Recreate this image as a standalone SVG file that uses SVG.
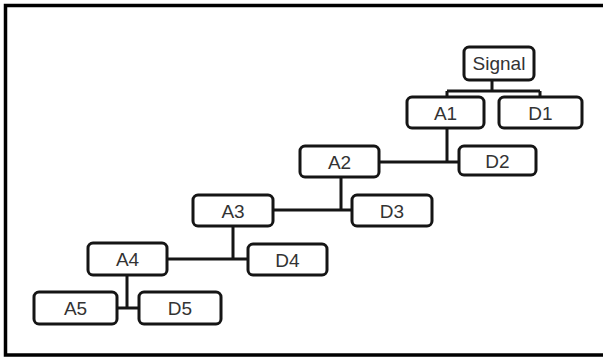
<svg xmlns="http://www.w3.org/2000/svg" width="603" height="358" viewBox="0 0 603 358">
<style>
.n rect{fill:#fff;stroke:#151515;stroke-width:3}
.n text{font-family:"Liberation Sans",Arial,sans-serif;font-size:19px;fill:#333;text-anchor:middle}
#connectors path{fill:none;stroke:#151515;stroke-width:3}
</style>
<rect x="0" y="0" width="603" height="358" fill="#fff"/>
<rect x="5.5" y="5.5" width="620" height="349.5" fill="none" stroke="#000" stroke-width="3.5"/>
<g id="connectors">
<path d="M492 81V91M447 91H540M447 91V97M540 91V97"/>
<path d="M447 129V162M379 162H459"/>
<path d="M341 177V210M273 210H352"/>
<path d="M233 227V259M167 259H248"/>
<path d="M127 275V308M117 308H139"/>
</g>
<g id="signal" class="n"><rect x="464" y="47" width="70" height="33" rx="5"/><text x="499" y="70">Signal</text></g>
<g id="a1" class="n"><rect x="407" y="97" width="77" height="31" rx="5"/><text x="445.5" y="120">A1</text></g>
<g id="d1" class="n"><rect x="499" y="97" width="83" height="31" rx="5"/><text x="540.5" y="120">D1</text></g>
<g id="d2" class="n"><rect x="459" y="146" width="77" height="29" rx="5"/><text x="497.5" y="168">D2</text></g>
<g id="a2" class="n"><rect x="300" y="146" width="79" height="31" rx="5"/><text x="339.5" y="169">A2</text></g>
<g id="d3" class="n"><rect x="352" y="195" width="80" height="31" rx="5"/><text x="392" y="218">D3</text></g>
<g id="a3" class="n"><rect x="193" y="195" width="80" height="31" rx="5"/><text x="233" y="218">A3</text></g>
<g id="d4" class="n"><rect x="248" y="244" width="79" height="31" rx="5"/><text x="287.5" y="267">D4</text></g>
<g id="a4" class="n"><rect x="88" y="243" width="79" height="32" rx="5"/><text x="127.5" y="266">A4</text></g>
<g id="a5" class="n"><rect x="34" y="292" width="83" height="32" rx="5"/><text x="75.5" y="315">A5</text></g>
<g id="d5" class="n"><rect x="139" y="292" width="82" height="32" rx="5"/><text x="180" y="315">D5</text></g>
</svg>
